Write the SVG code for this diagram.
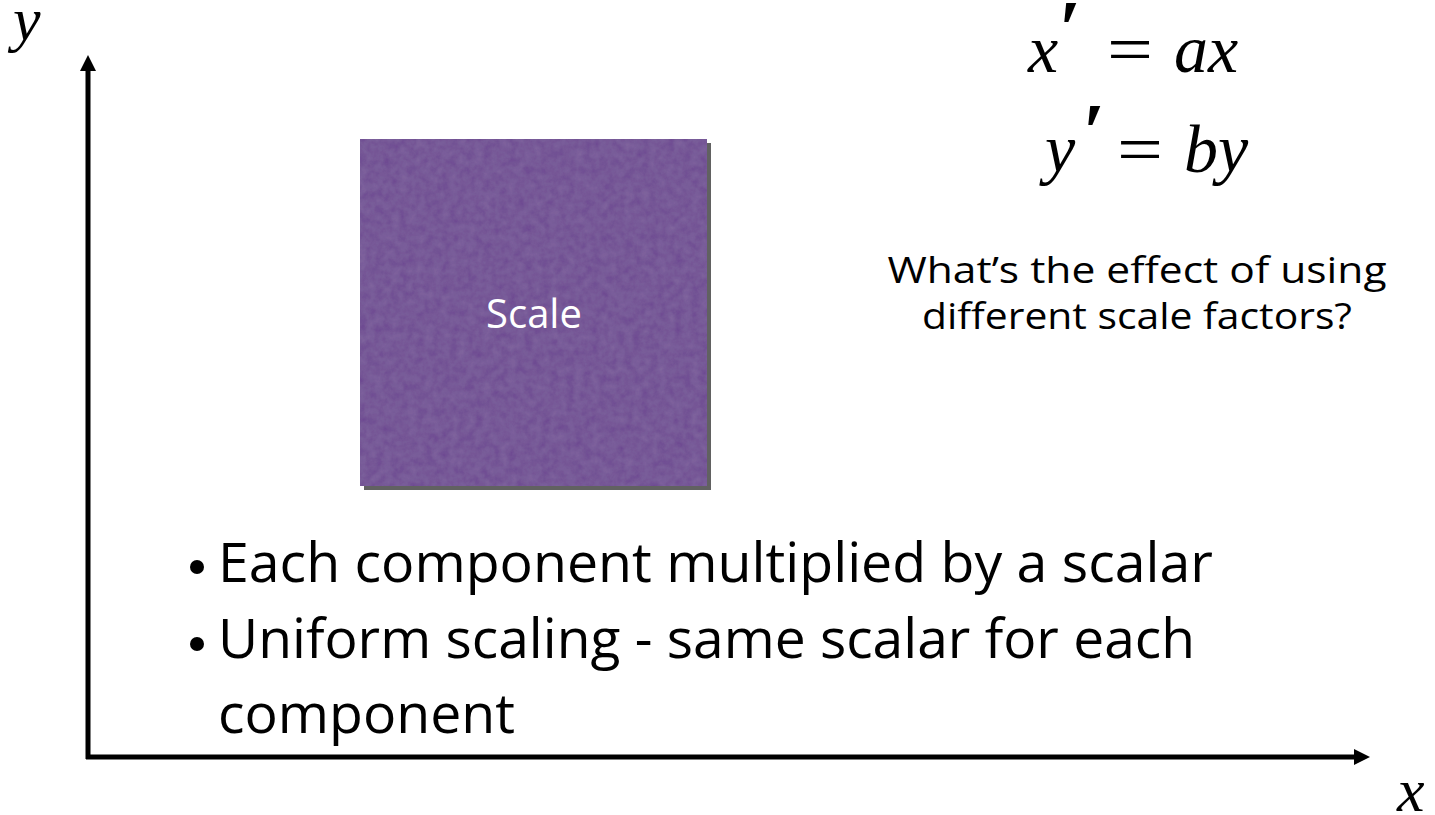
<svg xmlns="http://www.w3.org/2000/svg" width="1435" height="815" viewBox="0 0 1435 815">
<style>
.axis{stroke:#000;stroke-width:5;fill:none}
.math{font-family:"Liberation Serif","DejaVu Serif",serif;font-style:italic;fill:#000}
.mathr{font-family:"Liberation Serif","DejaVu Serif",serif;font-style:normal;fill:#000}
.body{font-family:"Open Sans","Liberation Sans",sans-serif;fill:#000}
.dot{fill:#000}
</style>
<defs>
<marker id="arr" viewBox="0 0 16 16" refX="2" refY="8" markerWidth="16" markerHeight="16" markerUnits="userSpaceOnUse" orient="auto">
<path d="M0,0 L16,8 L0,16 Z" fill="#000"/>
</marker>
<filter id="tex" x="0" y="0" width="1" height="1">
<feTurbulence type="fractalNoise" baseFrequency="0.12" numOctaves="4" seed="4" result="n"/>
<feColorMatrix in="n" type="matrix" values="0 0 0 0 0.85  0 0 0 0 0.8  0 0 0 0 0.95  0 0 0 0.1 0" result="c"/>
<feComposite in="c" in2="SourceGraphic" operator="in" result="cc"/>
<feMerge><feMergeNode in="SourceGraphic"/><feMergeNode in="cc"/></feMerge>
</filter>
</defs>
<rect width="1435" height="815" fill="#fff"/>
<g id="connectors">
<line class="axis" x1="88" y1="759" x2="88" y2="69" marker-end="url(#arr)"/>
<line class="axis" x1="86" y1="757" x2="1356" y2="757" marker-end="url(#arr)"/>
</g>
<g id="axis-labels">
<text class="math" x="13" y="40" font-size="62">y</text>
<text class="math" x="1397" y="811" font-size="62">x</text>
</g>
<g id="scale-box">
<rect x="364" y="143" width="347" height="347" fill="#3a3a3a" opacity="0.8"/>
<rect x="360" y="139" width="347" height="347" fill="#6c4690" filter="url(#tex)"/>
<text class="body" x="534" y="328" font-size="40" style="fill:#fff" text-anchor="middle">Scale</text>
</g>
<g id="equations">
<text class="math" x="1028" y="72" font-size="68">x</text>
<text class="mathr" x="1059" y="56" font-size="80" font-weight="bold">′</text>
<text class="mathr" x="1107" y="72" font-size="68" textLength="46" lengthAdjust="spacingAndGlyphs">=</text>
<text class="math" x="1174" y="72" font-size="68">ax</text>
<text class="math" x="1045" y="172" font-size="68">y</text>
<text class="mathr" x="1083" y="159" font-size="80" font-weight="bold">′</text>
<text class="mathr" x="1117" y="172" font-size="68" textLength="46" lengthAdjust="spacingAndGlyphs">=</text>
<text class="math" x="1184" y="172" font-size="68">by</text>
</g>
<g id="question">
<text class="body" x="1137" y="283" font-size="37" text-anchor="middle" textLength="499" lengthAdjust="spacingAndGlyphs">What’s the effect of using</text>
<text class="body" x="1137" y="329" font-size="37" text-anchor="middle" textLength="430" lengthAdjust="spacingAndGlyphs">different scale factors?</text>
</g>
<g id="bullets">
<circle class="dot" cx="197" cy="567" r="7"/>
<text class="body" x="218" y="582" font-size="54" textLength="995" lengthAdjust="spacingAndGlyphs">Each component multiplied by a scalar</text>
<circle class="dot" cx="197" cy="644" r="7"/>
<text class="body" x="218" y="658" font-size="54" textLength="977" lengthAdjust="spacingAndGlyphs">Uniform scaling - same scalar for each</text>
<text class="body" x="218" y="733" font-size="54" textLength="297" lengthAdjust="spacingAndGlyphs">component</text>
</g>
</svg>
